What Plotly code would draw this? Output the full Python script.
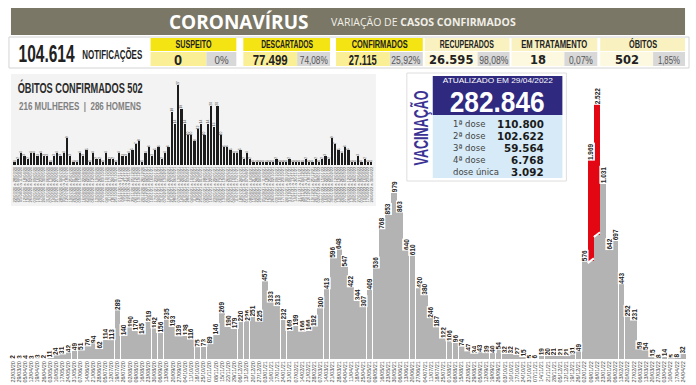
import plotly.graph_objects as go
import pandas as pd

W, H = 696, 385


def px(x):
    return x / W


def py(y):
    return 1 - y / H


# ---------------- data ----------------
cases = [2, 3, 4, 3, 3, 2, 11, 24, 31, 42, 49, 51, 76, 94, 62, 114, 113, 289,
         140, 190, 170, 145, 219, 182, 156, 235, 193, 139, 138, 116, 75, 73, 89,
         146, 269, 190, 179, 220, 226, 251, 225, 457, 333, 313, 232, 169, 199,
         166, 166, 192, 300, 413, 596, 648, 547, 422, 344, 307, 409, 536, 768,
         853, 979, 863, 640, 610, 420, 380, 246, 187, 122, 106, 96, 74, 47, 34,
         43, 39, 40, 54, 32, 32, 27, 15, 5, 6, 19, 20, 21, 21, 21, 31, 49, 576,
         1969, 2522, 1031, 642, 697, 443, 252, 231, 59, 54, 15, 8, 14, 5, 8, 32]

deaths = [1, 2, 4, 3, 2, 4, 4, 3, 4, 3, 3, 1, 3, 4, 3, 4,
          9, 3, 1, 1, 4, 3, 5, 1, 4, 2, 2, 1, 4, 2, 2, 1,
          4, 3, 3, 4, 5, 7, 8, 1, 4, 6, 3, 5, 6, 2, 4, 6,
          18, 14, 27, 19, 14, 10, 10, 8, 12, 14, 10, 14, 20, 13, 20, 10,
          6, 6, 5, 4, 4, 5, 2, 4, 2, 1,
          1, 1, 1, 1, 1, 1, 2, 1, 1, 1, 2, 1, 1, 1, 1, 2, 1, 1, 2, 1, 2,
          3, 2, 9, 7, 5, 4, 6, 5, 1, 1, 3, 1, 2, 1, 1]

week_starts = pd.date_range("2020-03-22", periods=len(cases), freq="7D")
week_labels = [d.strftime("%d/%m/%y") for d in week_starts]
week_ranges = [f"{d:%d/%m/%y} a {(d + pd.Timedelta(days=6)):%d/%m/%y}" for d in week_starts]

outlier_idx = [94, 95]
outlier_scale = 0.595
outlier_base = [578, 732]

stat_names = ["SUSPEITO", "DESCARTADOS", "CONFIRMADOS", "RECUPERADOS",
              "EM TRATAMENTO", "ÓBITOS"]
stat_values = ["0", "77.499", "27.115", "26.595", "18", "502"]
stat_pcts = ["0%", "74,08%", "25,92%", "98,08%", "0,07%", "1,85%"]
notificacoes = "104.614"

vac_total = "282.846"
vac_date = "29/04/2022"
vac_labels = ["1ª dose", "2ª dose", "3ª dose", "4ª dose", "dose única"]
vac_values = ["110.800", "102.622", "59.564", "6.768", "3.092"]

deaths_total = 502
deaths_women = 216
deaths_men = 286

# ---------------- styles ----------------
LIB = "Liberation Sans"
SANS = "DejaVu Sans"
ROUND = "Open Sans"
GRAY_BAR = "#b3b3b3"
RED = "#e30613"


def fam(base, w=None):
    # optional target text length (px), applied after render to condense glyphs
    return f"{base}, w{w}px, sans-serif" if w else f"{base}, sans-serif"


def br(v):
    return f"{v:,}".replace(",", ".")


n = len(cases)
xs = list(range(n))

gray_part, red_part, tops = [], [], []
for i, v in enumerate(cases):
    if i in outlier_idx:
        b = outlier_base[outlier_idx.index(i)]
        top = v * outlier_scale
        gray_part.append(b)
        red_part.append(top - b)
        tops.append(top)
    else:
        gray_part.append(v)
        red_part.append(0)
        tops.append(v)

fig = go.Figure()
fig.add_trace(go.Bar(x=xs, y=gray_part, marker=dict(color=GRAY_BAR, line=dict(width=0)),
                     xaxis="x", yaxis="y", hoverinfo="skip"))
fig.add_trace(go.Bar(x=xs, y=red_part, marker=dict(color=RED, line=dict(width=0)),
                     xaxis="x", yaxis="y", hoverinfo="skip"))

for k, i in enumerate(outlier_idx):
    b = outlier_base[k]
    fig.add_trace(go.Scatter(x=[i - 0.5, i + 0.5], y=[b - 14, b + 14], mode="lines",
                             line=dict(color="white", width=2), xaxis="x", yaxis="y",
                             hoverinfo="skip", showlegend=False))

fig.add_trace(go.Bar(x=xs, y=deaths, width=0.7,
                     marker=dict(color="#1c1c1c", line=dict(width=0)),
                     text=[str(d) for d in deaths], textposition="outside",
                     textfont=dict(size=3.5, color="#444", family=LIB),
                     constraintext="none", cliponaxis=False, textangle=-90,
                     xaxis="x2", yaxis="y2", hoverinfo="skip"))

shapes = []
ann = []


def rect(x0, y0, x1, y1, fill, line=None, lw=0):
    shapes.append(dict(type="rect", xref="paper", yref="paper",
                       x0=px(x0), x1=px(x1), y0=py(y1), y1=py(y0),
                       fillcolor=fill, line=dict(color=line or fill, width=lw),
                       layer="below"))


def txt(x, y, s, size, color, family, weight="normal", xa="center", ya="middle",
        angle=0, w=None):
    ann.append(dict(xref="paper", yref="paper", x=px(x), y=py(y), text=s,
                    showarrow=False,
                    font=dict(size=size, color=color, family=fam(family, w), weight=weight),
                    xanchor=xa, yanchor=ya, textangle=angle, borderpad=0,
                    align={"left": "left", "right": "right"}.get(xa, "center")))


# header banner
rect(10, 8, 686, 35, "#7b7766")
txt(238, 22, "CORONAVÍRUS", 19, "white", ROUND, weight="bold")
txt(330, 22.5, "VARIAÇÃO DE <b>CASOS CONFIRMADOS</b>", 10.5, "#f0efe8", ROUND, xa="left")

# stat row
rect(8, 37, 690, 68, "white", "#d4d4d4", 1)
txt(46, 53.5, notificacoes, 23, "#222", LIB, weight="bold", w=56)
txt(111, 54, "NOTIFICAÇÕES", 12.5, "#222", LIB, weight="bold", w=60)

boxes = [(150, 206, 236), (243, 297, 330), (336, 390, 423),
         (425, 478, 510), (512, 565, 598), (601, 654, 686)]
head_w = [36, 52, 56, 54, 66, 28]
val_w = [None, 35, 28, None, None, None]
pct_w = [14, 28, 29, 29, 24, 22]
for k, (x0, xm, x1) in enumerate(boxes):
    strong = k < 3
    rect(x0, 38, x1, 51, "#f5e414" if strong else "#f9f1bf")
    rect(x0, 52, xm, 66, "#fbef95" if strong else "#fdf9e0")
    rect(xm, 52, x1, 66, "#d8d8d8")
    txt((x0 + x1) / 2, 44.2, stat_names[k], 10.5, "#222", LIB, weight="bold", w=head_w[k])
    if strong:
        txt((x0 + xm) / 2, 60.2, stat_values[k], 14.5, "#222", LIB, weight="bold", w=val_w[k])
    else:
        txt((x0 + xm) / 2, 59.6, stat_values[k], 11.5, "#222", SANS, weight="bold")
    txt((xm + x1) / 2, 59.6, stat_pcts[k], 10.5, "#555", LIB, w=pct_w[k])

# inset background and titles
rect(10, 74, 376, 206, "#f3f3f3")
txt(79.5, 88, f"ÓBITOS CONFIRMADOS {deaths_total}", 14, "#2b2b2b", LIB, weight="bold", w=125)
txt(79, 106, f"{deaths_women} MULHERES  |  {deaths_men} HOMENS", 11, "#808080", LIB,
    weight="bold", w=122)

# vaccination box
rect(407, 73, 567, 181, "white", "#dedede", 1)
rect(433, 76, 563, 115, "#2f2a80")
rect(433, 115, 563, 178, "#d6ebf7")
txt(420.5, 127.5, "VACINAÇÃO", 20, "#3b3394", LIB, weight="bold", angle=-90, w=75)
txt(498, 80.3, f"ATUALIZADO EM {vac_date}", 7.5, "white", LIB, w=110)
txt(497.5, 101.8, vac_total, 30, "white", LIB, weight="bold", w=95)
rows_y = [123.5, 135.5, 147.5, 159.5, 171.5]
for lab, val, yy in zip(vac_labels, vac_values, rows_y):
    txt(452, yy, lab, 8.5, "#444", SANS, xa="left")
    txt(546, yy, val, 10.3, "#1a1a1a", SANS, weight="bold", xa="right")

# value labels of main bars
for i, v in enumerate(cases):
    ann.append(dict(xref="x", yref="y", x=i, y=tops[i], text=br(v),
                    showarrow=False, textangle=-90, xanchor="center", yanchor="bottom",
                    font=dict(size=6.5, color="#222", family=fam(LIB), weight="bold"),
                    bgcolor="white", borderpad=0, yshift=-1))

fig.update_layout(
    width=W, height=H, autosize=False,
    margin=dict(l=0, r=0, t=0, b=0),
    paper_bgcolor="white", plot_bgcolor="rgba(0,0,0,0)",
    barmode="stack", bargap=0.06, showlegend=False,
    shapes=shapes, annotations=ann,
    xaxis=dict(domain=[px(9), px(687)], range=[-0.5, n - 0.5], tickmode="array",
               tickvals=xs, ticktext=week_labels, tickangle=-90,
               tickfont=dict(size=5.5, color="#444", family=fam(LIB)),
               showgrid=False, zeroline=False, showline=False, ticks="", anchor="y"),
    yaxis=dict(domain=[py(359), 1], range=[0, 359 / 0.17], visible=False, anchor="x"),
    xaxis2=dict(domain=[px(12), px(373)], range=[-0.5, n - 0.5], tickmode="array",
                tickvals=xs, ticktext=week_ranges, tickangle=-90,
                tickfont=dict(size=4, color="#555", family=fam(LIB)),
                showgrid=False, zeroline=False, showline=False, ticks="", anchor="y2"),
    yaxis2=dict(domain=[py(165), py(75)], range=[0, (165 - 75) / 2.96], visible=False,
                anchor="x2"),
)

post = """
document.body.style.margin='0';
document.body.style.padding='0';
var gd=document.getElementById('{plot_id}');
gd.querySelectorAll('g.annotation').forEach(function(g){
  var t=g.querySelector('text.annotation-text'); if(!t) return;
  var m=/w(\\d+(?:\\.\\d+)?)px/.exec(t.style.fontFamily||''); if(!m) return;
  var L=parseFloat(m[1]);
  var cur=t.getComputedTextLength();
  t.setAttribute('textLength', L); t.setAttribute('lengthAdjust','spacingAndGlyphs');
  g.querySelectorAll('rect').forEach(function(r){
    var w=parseFloat(r.getAttribute('width')); var x=parseFloat(r.getAttribute('x')||0);
    if(!isFinite(w)) return;
    var nw=Math.max(1, w-(cur-L));
    r.setAttribute('x', x+(w-nw)/2); r.setAttribute('width', nw);
  });
});
"""

fig.write_html("out.html", post_script=post, config={"displayModeBar": False})
